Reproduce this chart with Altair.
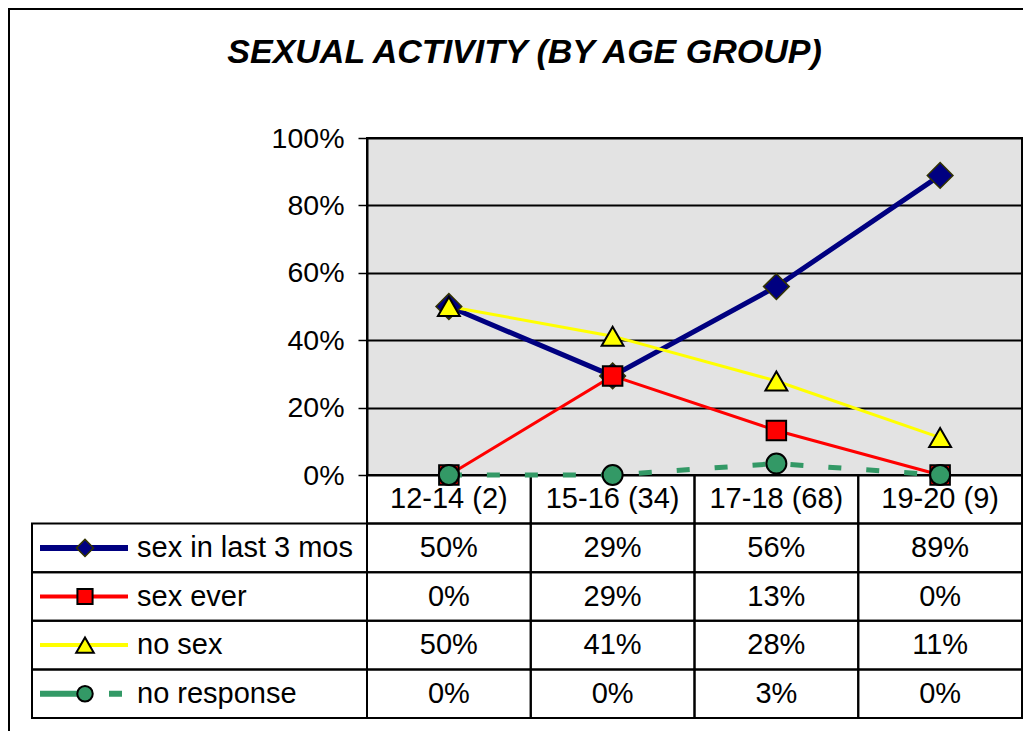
import altair as alt
import pandas as pd

# ---------------- data ----------------
title_text = "SEXUAL ACTIVITY (BY AGE GROUP)"
categories = ["12-14 (2)", "15-16 (34)", "17-18 (68)", "19-20 (9)"]
series = ["sex in last 3 mos", "sex ever", "no sex", "no response"]
sex_last_3_mos = [0.50, 0.294, 0.559, 0.889]
sex_ever = [0.0, 0.294, 0.132, 0.0]
no_sex = [0.50, 0.412, 0.279, 0.111]
no_response = [0.0, 0.0, 0.034, 0.0]
y_ticks = [0, 0.2, 0.4, 0.6, 0.8, 1.0]

values = [sex_last_3_mos, sex_ever, no_sex, no_response]

# ---------------- styles ----------------
FONT = "Liberation Sans"
W, H = 655, 337          # plot area
TABLE_H = 243            # table below the plot
styles = [
    dict(color="#000080", width=5, shape="diamond", size=660, lsize=290,
         mstroke="#333300", mwidth=1.5, lwidth=6),
    dict(color="#FF0000", width=3, shape="square", size=380, lsize=230,
         mstroke="black", mwidth=2, lwidth=4),
    dict(color="#FFFF00", width=3, shape="triangle-up", size=480, lsize=310,
         mstroke="black", mwidth=2, lwidth=4),
    dict(color="#339966", width=5, dash=[13, 25], shape="circle", size=400,
         lsize=240, mstroke="black", mwidth=2, lwidth=6, ldash=[51, 18, 13, 20]),
]

rows = ["header"] + series
x_scale = alt.Scale(domain=categories, paddingInner=0, paddingOuter=0)
y_scale = alt.Scale(domain=[0, 1])
row_scale = alt.Scale(domain=rows, range=[H, H + TABLE_H],
                      paddingInner=0, paddingOuter=0)

long_df = pd.DataFrame(
    [{"series": s, "category": c, "value": v}
     for s, vals in zip(series, values) for c, v in zip(categories, vals)]
)

table_df = pd.DataFrame(
    [{"row": "header", "category": c, "text": c} for c in categories]
    + [{"row": s, "category": c, "text": f"{round(v * 100)}%"}
       for s, vals in zip(series, values) for c, v in zip(categories, vals)]
)
legend_df = pd.DataFrame({"row": series})

X = alt.X("category:N", scale=x_scale, axis=None, sort=categories)
ROW = alt.Y("row:N", scale=row_scale, axis=None)

y_axis = alt.Axis(
    values=y_ticks, format=".0%", title=None,
    labelFont=FONT, labelFontSize=28.5, labelColor="black", labelPadding=14,
    tickColor="black", tickSize=9, tickWidth=1.5,
    domainColor="black", domainWidth=2,
    grid=True, gridColor="black", gridWidth=2,
)

layers = []

# outer frame
frame = alt.Chart(pd.DataFrame({"a": [0]})).mark_rect(
    fillOpacity=0, stroke="black", strokeWidth=2
).encode(x=alt.value(-358), x2=alt.value(720), y=alt.value(-129), y2=alt.value(660))
layers.append(frame)

# table cells (header + values)
cells = alt.Chart(table_df).mark_rect(
    fillOpacity=0, stroke="black", strokeWidth=2
).encode(x=X, y=ROW)
layers.append(cells)

# legend column cells
leg_cells = alt.Chart(legend_df).mark_rect(
    fillOpacity=0, stroke="black", strokeWidth=2
).encode(x=alt.value(-335), x2=alt.value(0), y=ROW)
layers.append(leg_cells)

# series lines + markers
for i, (s, st) in enumerate(zip(series, styles)):
    d = long_df[long_df.series == s]
    line_kw = dict(color=st["color"], strokeWidth=st["width"], clip=False)
    if "dash" in st:
        line_kw["strokeDash"] = st["dash"]
    line = alt.Chart(d).mark_line(**line_kw).encode(
        x=X, y=alt.Y("value:Q", scale=y_scale, axis=y_axis if i == 0 else None)
    )
    layers.append(line)
for s, st in zip(series, styles):
    d = long_df[long_df.series == s]
    pts = alt.Chart(d).mark_point(
        shape=st["shape"], size=st["size"], filled=True, fill=st["color"],
        stroke=st["mstroke"], strokeWidth=st["mwidth"], opacity=1, clip=False
    ).encode(x=X, y=alt.Y("value:Q", scale=y_scale, axis=None))
    layers.append(pts)

# legend swatches
for s, st in zip(series, styles):
    d = legend_df[legend_df.row == s]
    rule_kw = dict(color=st["color"], strokeWidth=st["lwidth"])
    if "ldash" in st:
        rule_kw["strokeDash"] = st["ldash"]
    sw = alt.Chart(d).mark_rule(**rule_kw).encode(
        x=alt.value(-327), x2=alt.value(-239), y=ROW
    )
    layers.append(sw)
    mk = alt.Chart(d).mark_point(
        shape=st["shape"], size=st["lsize"], filled=True, fill=st["color"],
        stroke=st["mstroke"], strokeWidth=st["mwidth"], opacity=1
    ).encode(x=alt.value(-282), y=ROW)
    layers.append(mk)

# legend labels
leg_text = alt.Chart(legend_df).mark_text(
    align="left", baseline="middle", font=FONT, fontSize=29, color="black"
).encode(x=alt.value(-230), y=ROW, text="row:N")
layers.append(leg_text)

# table texts
tab_text = alt.Chart(table_df).mark_text(
    align="center", baseline="middle", font=FONT, fontSize=29, color="black"
).encode(x=X, y=ROW, text="text:N")
layers.append(tab_text)

chart = alt.layer(*layers).resolve_scale(y="independent").properties(
    width=W, height=H,
    padding={"left": 359, "top": 130, "right": 1, "bottom": 256},
    autosize=alt.AutoSizeParams(type="none"),
    title=alt.TitleParams(
        text=title_text, font=FONT, fontSize=34, fontWeight="bold",
        fontStyle="italic", color="black", anchor="middle", frame="group",
        dx=-170, offset=-62,
    ),
).configure_view(fill="#E3E3E3", stroke="black", strokeWidth=2)

chart.save("out.html", embed_options={"renderer": "svg", "actions": False})
